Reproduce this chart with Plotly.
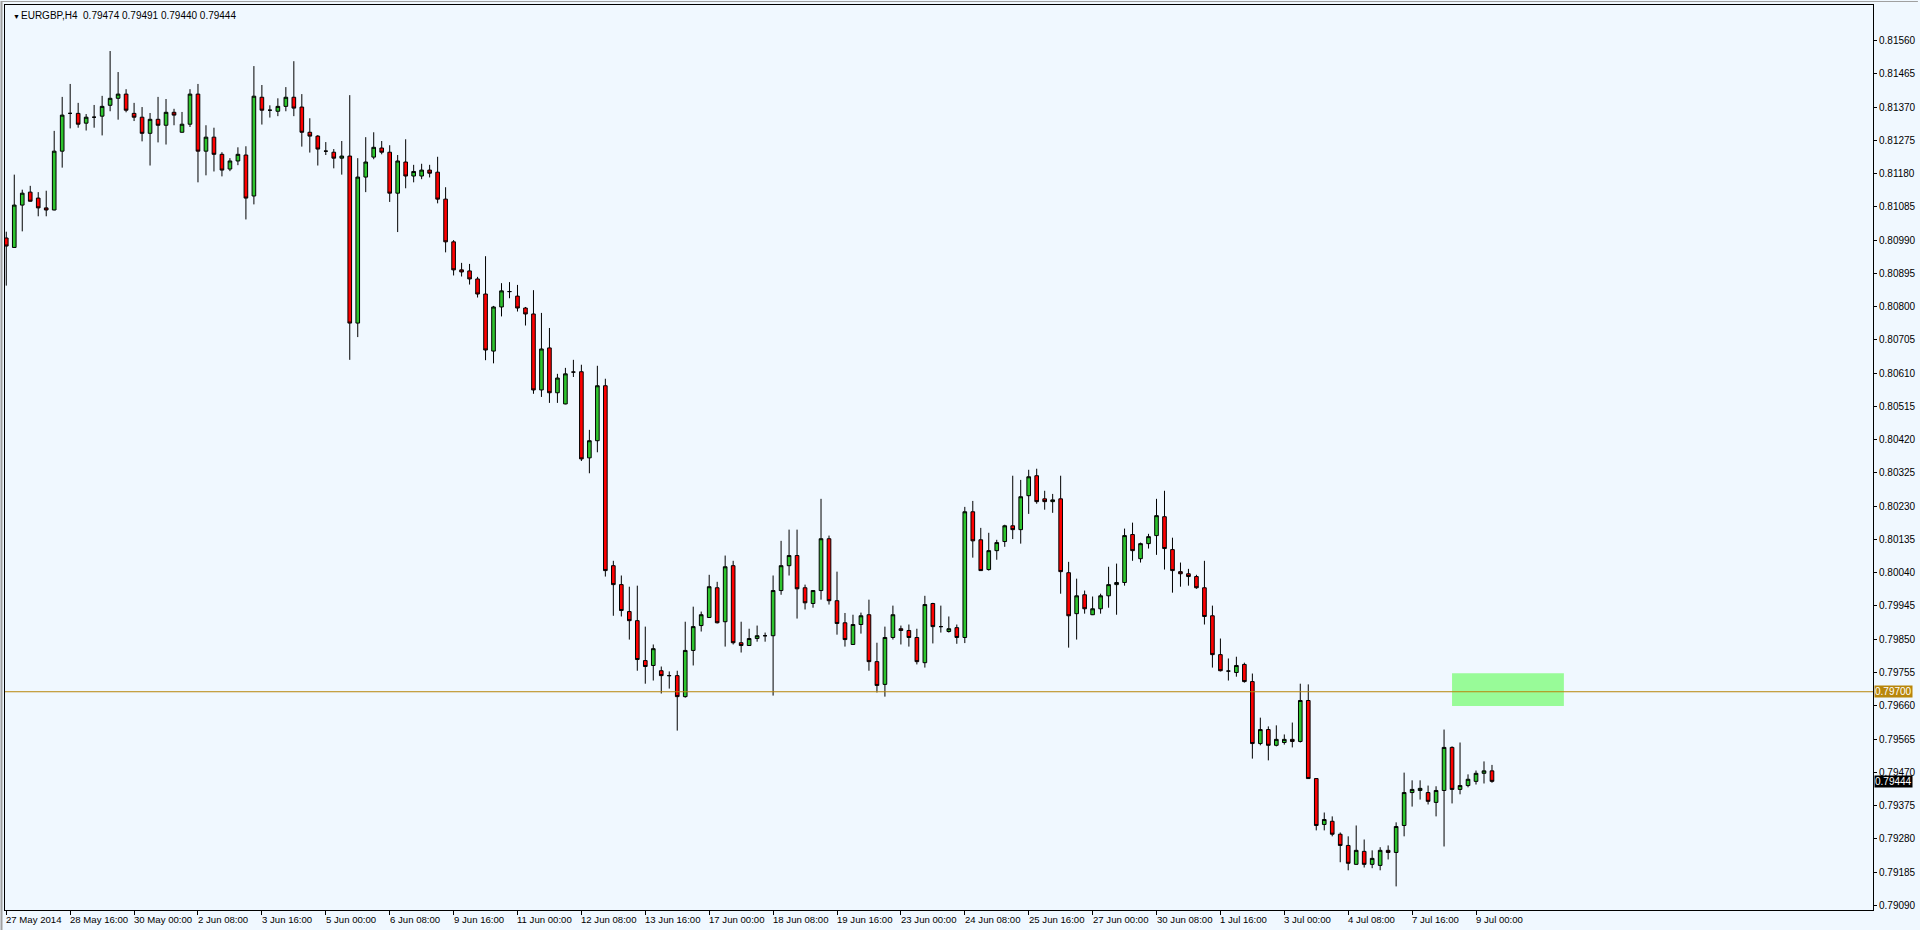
import plotly.graph_objects as go

# ---------------- data ----------------
symbol_title = "EURGBP,H4\u00a0\u00a00.79474 0.79491 0.79440 0.79444"

open_ = [0.80996,0.80969,0.81090,0.81127,0.81110,0.81082,0.81076,0.81244,0.81352,0.81352,
         0.81324,0.81341,0.81344,0.81375,0.81395,0.81407,0.81352,0.81341,0.81295,0.81335,
         0.81318,0.81355,0.81298,0.81321,0.81407,0.81244,0.81284,0.81235,0.81193,0.81216,
         0.81233,0.81116,0.81398,0.81361,0.81358,0.81372,0.81398,0.81370,0.81298,0.81287,
         0.81244,0.81241,0.81224,0.81230,0.80753,0.81170,0.81227,0.81253,0.81241,0.81124,
         0.81213,0.81173,0.81173,0.81190,0.81184,0.81107,0.80985,0.80905,0.80902,0.80879,
         0.80836,0.80673,0.80799,0.80843,0.80830,0.80796,0.80779,0.80562,0.80682,0.80554,
         0.80522,0.80613,0.80614,0.80368,0.80417,0.80574,0.80060,0.80006,0.79929,0.79903,
         0.79789,0.79775,0.79760,0.79746,0.79746,0.79686,0.79818,0.79889,0.79912,0.79997,
         0.79900,0.80060,0.79840,0.79832,0.79852,0.79860,0.79860,0.79989,0.80060,0.80089,
         0.79997,0.79952,0.79989,0.80137,0.79960,0.79897,0.79835,0.79892,0.79920,0.79786,
         0.79721,0.79855,0.79880,0.79875,0.79855,0.79783,0.79952,0.79886,0.79872,0.79883,
         0.79855,0.80214,0.80134,0.80049,0.80103,0.80129,0.80174,0.80163,0.80260,0.80317,
         0.80251,0.80243,0.80251,0.80040,0.79923,0.79977,0.79920,0.79937,0.79974,0.80006,
         0.80012,0.80149,0.80080,0.80123,0.80146,0.80200,0.80106,0.80043,0.80037,0.80029,
         0.79997,0.79917,0.79806,0.79759,0.79755,0.79778,0.79729,0.79552,0.79592,0.79547,
         0.79555,0.79564,0.79558,0.79675,0.79452,0.79321,0.79330,0.79293,0.79261,0.79207,
         0.79244,0.79207,0.79204,0.79247,0.79241,0.79318,0.79412,0.79418,0.79412,0.79384,
         0.79418,0.79541,0.79421,0.79432,0.79444,0.79467,0.79474]

high = [0.81014,0.81177,0.81134,0.81145,0.81127,0.81131,0.81302,0.81399,0.81436,0.81382,
        0.81350,0.81376,0.81402,0.81530,0.81470,0.81421,0.81382,0.81370,0.81353,0.81399,
        0.81393,0.81365,0.81356,0.81421,0.81436,0.81318,0.81311,0.81241,0.81224,0.81255,
        0.81258,0.81487,0.81433,0.81375,0.81395,0.81427,0.81501,0.81407,0.81338,0.81290,
        0.81270,0.81250,0.81273,0.81404,0.81224,0.81284,0.81298,0.81273,0.81261,0.81233,
        0.81278,0.81205,0.81208,0.81205,0.81228,0.81141,0.80990,0.80925,0.80922,0.80885,
        0.80944,0.80802,0.80867,0.80870,0.80862,0.80799,0.80847,0.80782,0.80739,0.80608,
        0.80625,0.80648,0.80634,0.80448,0.80631,0.80594,0.80074,0.80032,0.80000,0.80003,
        0.79886,0.79835,0.79772,0.79758,0.79760,0.79900,0.79943,0.79929,0.80034,0.80014,
        0.80089,0.80074,0.79900,0.79880,0.79889,0.79869,0.80032,0.80131,0.80163,0.80163,
        0.80006,0.79990,0.80251,0.80146,0.80043,0.79925,0.79920,0.79926,0.79963,0.79840,
        0.79886,0.79946,0.79889,0.79892,0.79880,0.79974,0.79954,0.79946,0.79915,0.79892,
        0.80228,0.80245,0.80168,0.80154,0.80134,0.80177,0.80317,0.80305,0.80334,0.80337,
        0.80274,0.80265,0.80317,0.80071,0.80023,0.79989,0.79972,0.79980,0.80057,0.80066,
        0.80166,0.80183,0.80126,0.80151,0.80251,0.80274,0.80140,0.80069,0.80051,0.80034,
        0.80074,0.79946,0.79852,0.79795,0.79800,0.79783,0.79752,0.79626,0.79601,0.79604,
        0.79578,0.79612,0.79723,0.79721,0.79452,0.79355,0.79344,0.79298,0.79287,0.79318,
        0.79278,0.79247,0.79256,0.79261,0.79327,0.79469,0.79447,0.79447,0.79432,0.79430,
        0.79592,0.79544,0.79555,0.79464,0.79475,0.79501,0.79491]

low = [0.80860,0.80968,0.81015,0.81100,0.81058,0.81058,0.81075,0.81197,0.81309,0.81311,
       0.81303,0.81311,0.81289,0.81358,0.81334,0.81355,0.81330,0.81272,0.81203,0.81269,
       0.81263,0.81318,0.81297,0.81313,0.81155,0.81175,0.81186,0.81172,0.81187,0.81204,
       0.81049,0.81092,0.81320,0.81340,0.81344,0.81358,0.81344,0.81257,0.81240,0.81203,
       0.81233,0.81195,0.81177,0.80648,0.80713,0.81127,0.81221,0.81235,0.81099,0.81013,
       0.81138,0.81155,0.81164,0.81169,0.81095,0.80955,0.80889,0.80886,0.80863,0.80826,
       0.80647,0.80638,0.80772,0.80824,0.80786,0.80746,0.80551,0.80542,0.80525,0.80525,
       0.80521,0.80599,0.80359,0.80324,0.80384,0.80029,0.79917,0.79915,0.79849,0.79760,
       0.79723,0.79732,0.79695,0.79709,0.79589,0.79683,0.79775,0.79872,0.79911,0.79895,
       0.79829,0.79835,0.79812,0.79831,0.79843,0.79843,0.79689,0.79977,0.80032,0.79909,
       0.79935,0.79940,0.79963,0.79949,0.79863,0.79829,0.79834,0.79866,0.79760,0.79698,
       0.79686,0.79849,0.79835,0.79829,0.79778,0.79769,0.79838,0.79869,0.79869,0.79837,
       0.79839,0.80083,0.80045,0.80046,0.80077,0.80114,0.80136,0.80123,0.80208,0.80237,
       0.80220,0.80211,0.79980,0.79826,0.79849,0.79923,0.79919,0.79923,0.79940,0.79920,
       0.80003,0.80074,0.80069,0.80109,0.80091,0.80049,0.79983,0.80000,0.80003,0.79994,
       0.79892,0.79769,0.79758,0.79732,0.79743,0.79726,0.79509,0.79547,0.79504,0.79544,
       0.79549,0.79541,0.79555,0.79451,0.79304,0.79304,0.79287,0.79213,0.79190,0.79206,
       0.79198,0.79196,0.79190,0.79221,0.79144,0.79287,0.79372,0.79392,0.79378,0.79344,
       0.79258,0.79381,0.79407,0.79427,0.79435,0.79438,0.79440]

close = [0.80973,0.81090,0.81124,0.81101,0.81082,0.81076,0.81244,0.81347,0.81352,0.81321,
         0.81341,0.81341,0.81372,0.81395,0.81407,0.81361,0.81341,0.81295,0.81335,0.81318,
         0.81355,0.81347,0.81321,0.81407,0.81244,0.81284,0.81235,0.81190,0.81216,0.81235,
         0.81110,0.81401,0.81361,0.81361,0.81372,0.81398,0.81367,0.81298,0.81287,0.81250,
         0.81244,0.81224,0.81230,0.80753,0.81170,0.81213,0.81255,0.81241,0.81124,0.81216,
         0.81173,0.81186,0.81190,0.81181,0.81107,0.80985,0.80905,0.80899,0.80879,0.80836,
         0.80676,0.80799,0.80845,0.80843,0.80796,0.80779,0.80562,0.80679,0.80554,0.80596,
         0.80608,0.80613,0.80365,0.80417,0.80574,0.80046,0.80006,0.79932,0.79903,0.79792,
         0.79772,0.79823,0.79746,0.79746,0.79686,0.79818,0.79886,0.79920,0.80000,0.79897,
         0.80057,0.79840,0.79832,0.79852,0.79860,0.79860,0.79989,0.80060,0.80089,0.79994,
         0.79954,0.79989,0.80137,0.79960,0.79895,0.79849,0.79892,0.79917,0.79786,0.79718,
         0.79855,0.79920,0.79875,0.79855,0.79786,0.79949,0.79886,0.79886,0.79880,0.79855,
         0.80214,0.80131,0.80046,0.80103,0.80126,0.80174,0.80163,0.80257,0.80314,0.80243,
         0.80243,0.80248,0.80043,0.79917,0.79974,0.79937,0.79937,0.79974,0.80006,0.80012,
         0.80146,0.80103,0.80123,0.80143,0.80203,0.80109,0.80046,0.80037,0.80029,0.79997,
         0.79915,0.79806,0.79760,0.79759,0.79775,0.79729,0.79552,0.79592,0.79547,0.79564,
         0.79564,0.79558,0.79675,0.79452,0.79318,0.79335,0.79293,0.79261,0.79210,0.79247,
         0.79207,0.79224,0.79247,0.79241,0.79315,0.79412,0.79421,0.79424,0.79387,0.79418,
         0.79541,0.79421,0.79432,0.79450,0.79467,0.79474,0.79444]

bar_index = list(range(len(close)))

time_tick_bars = [0, 8, 16, 24, 32, 40, 48, 56, 64, 72, 80, 88, 96, 104, 112, 120,
                  128, 136, 144, 152, 160, 168, 176, 184]
time_tick_labels = ["27 May 2014", "28 May 16:00", "30 May 00:00", "2 Jun 08:00",
                    "3 Jun 16:00", "5 Jun 00:00", "6 Jun 08:00", "9 Jun 16:00",
                    "11 Jun 00:00", "12 Jun 08:00", "13 Jun 16:00", "17 Jun 00:00",
                    "18 Jun 08:00", "19 Jun 16:00", "23 Jun 00:00", "24 Jun 08:00",
                    "25 Jun 16:00", "27 Jun 00:00", "30 Jun 08:00", "1 Jul 16:00",
                    "3 Jul 00:00", "4 Jul 08:00", "7 Jul 16:00", "9 Jul 00:00"]

price_tick_labels = ["0.79090", "0.79185", "0.79280", "0.79375", "0.79470", "0.79565",
                     "0.79660", "0.79755", "0.79850", "0.79945", "0.80040", "0.80135",
                     "0.80230", "0.80325", "0.80420", "0.80515", "0.80610", "0.80705",
                     "0.80800", "0.80895", "0.80990", "0.81085", "0.81180", "0.81275",
                     "0.81370", "0.81465", "0.81560"]

level_price = 0.79700
last_price = 0.79444
zone_bars = [181, 195]
zone_prices = [0.79659, 0.79753]

# ---------------- styling ----------------
BG = "#F0F8FF"
FONT = "Liberation Sans"
FS = 10
FS_X = 9.6
W, H = 1920, 930
ML, MR, MT, MB = 4, 45, 4, 20
plot_w = W - ML - MR
plot_h = H - MT - MB

fig = go.Figure()
fig.add_trace(go.Candlestick(
    x=bar_index, open=open_, high=high, low=low, close=close,
    increasing=dict(line=dict(color="black", width=1), fillcolor="#2EC42E"),
    decreasing=dict(line=dict(color="black", width=1), fillcolor="#FF0000"),
    whiskerwidth=0, showlegend=False, hoverinfo="skip",
))

shapes = [
    dict(type="rect", xref="x", yref="y", x0=zone_bars[0], x1=zone_bars[1],
         y0=zone_prices[0], y1=zone_prices[1], fillcolor="#98FB98",
         line=dict(width=0), layer="below"),
    dict(type="line", xref="paper", yref="y", x0=0, x1=1, y0=level_price, y1=level_price,
         line=dict(color="#B8860B", width=1), layer="above"),
    # outer window edge
    dict(type="line", xref="paper", yref="paper", x0=-3.5 / plot_w, x1=-3.5 / plot_w,
         y0=-MB / plot_h, y1=1 + MT / plot_h, line=dict(color="#A0A0A0", width=2)),
    dict(type="line", xref="paper", yref="paper", x0=-ML / plot_w, x1=1 + MR / plot_w,
         y0=1 + 3.5 / plot_h, y1=1 + 3.5 / plot_h, line=dict(color="#A0A0A0", width=1)),
]

annotations = []
for b, lab in zip(time_tick_bars, time_tick_labels):
    annotations.append(dict(x=b, y=0, xref="x", yref="paper", text=lab, showarrow=False,
                            xanchor="left", yanchor="top", xshift=-2, yshift=-2,
                            font=dict(family=FONT, size=FS_X, color="black")))
annotations.append(dict(x=0, y=1, xref="paper", yref="paper", text="\u25BC", showarrow=False,
                        xanchor="left", yanchor="top", xshift=6, yshift=-6,
                        font=dict(family=FONT, size=7, color="black")))
annotations.append(dict(x=0, y=1, xref="paper", yref="paper", text=symbol_title,
                        showarrow=False, xanchor="left", yanchor="top", xshift=14, yshift=-3,
                        font=dict(family=FONT, size=FS, color="black")))
annotations.append(dict(x=1, y=level_price, xref="paper", yref="y", text="%.5f" % level_price,
                        showarrow=False, xanchor="left", yanchor="middle", xshift=1,
                        bgcolor="#B8860B", borderpad=0,
                        font=dict(family=FONT, size=FS, color="white")))
annotations.append(dict(x=1, y=last_price, xref="paper", yref="y", text="%.5f" % last_price,
                        showarrow=False, xanchor="left", yanchor="middle", xshift=1,
                        bgcolor="black", borderpad=0,
                        font=dict(family=FONT, size=FS, color="white")))

fig.update_layout(
    width=W, height=H, autosize=False,
    margin=dict(l=ML, r=MR, t=MT, b=MB, pad=0),
    paper_bgcolor=BG, plot_bgcolor=BG,
    boxgap=0.35,
    shapes=shapes, annotations=annotations,
    font=dict(family=FONT, size=FS, color="black"),
    xaxis=dict(
        range=[-0.16, 233.7], rangeslider=dict(visible=False),
        showgrid=False, zeroline=False,
        showline=True, linecolor="black", linewidth=1, mirror=True,
        ticks="outside", ticklen=4, tickcolor="black", tickwidth=1,
        tickvals=time_tick_bars, showticklabels=False,
    ),
    yaxis=dict(
        side="right", range=[0.790766, 0.816615],
        showgrid=False, zeroline=False,
        showline=True, linecolor="black", linewidth=1, mirror=True,
        ticks="outside", ticklen=3, tickcolor="black", tickwidth=1,
        tickvals=[float(t) for t in price_tick_labels], ticktext=price_tick_labels,
        tickfont=dict(family=FONT, size=FS, color="black"),
    ),
)

fig.write_html("out.html", config={"displayModeBar": False},
               post_script="document.body.style.margin='0px';document.body.style.overflow='hidden';")
